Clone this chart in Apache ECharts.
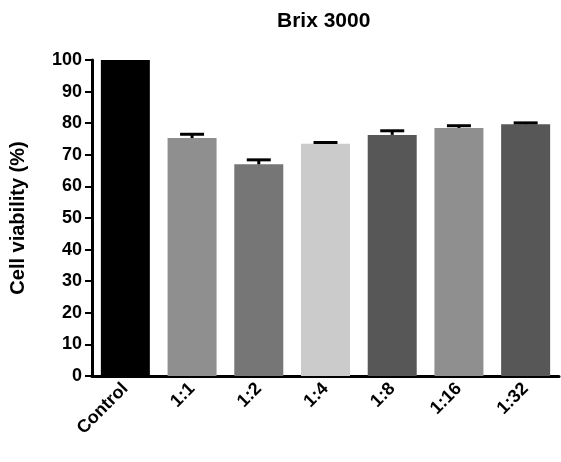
<!DOCTYPE html>
<html>
<head>
<meta charset="utf-8">
<script src="https://cdn.jsdelivr.net/npm/echarts@6/dist/echarts.min.js"></script>
<style>html,body{margin:0;padding:0;background:#fff}#c{width:561px;height:462px}</style>
</head>
<body>
<div id="c"></div>
<script>
var categories = ['Control', '1:1', '1:2', '1:4', '1:8', '1:16', '1:32'];
var values = [100, 75.3, 67.0, 73.5, 76.3, 78.5, 79.7];
var errors = [0, 1.2, 1.4, 0.4, 1.3, 0.7, 0.4];
var colors = ['#000000', '#8f8f8f', '#767676', '#cbcbcb', '#575757', '#8f8f8f', '#575757'];

var chart = echarts.init(document.getElementById('c'));
var font = 'Liberation Sans, Arial, sans-serif';
chart.setOption({
  title: { text: 'Brix 3000', left: 272, top: 6,
    textStyle: { fontFamily: font, fontSize: 21, fontWeight: 'bold', color: '#000' } },
  grid: { left: 90, right: 2, top: 60, bottom: 86 },
  xAxis: {
    type: 'category', data: categories,
    axisLine: { lineStyle: { color: '#000', width: 3 } },
    axisTick: { alignWithLabel: true, length: 7, lineStyle: { color: '#000', width: 2 } },
    axisLabel: { rotate: 45, color: '#000', fontFamily: font, fontSize: 18, fontWeight: 'bold', margin: 10 }
  },
  yAxis: {
    type: 'value', min: 0, max: 100, interval: 10,
    name: 'Cell viability (%)', nameLocation: 'middle', nameGap: 64,
    nameTextStyle: { fontFamily: font, fontSize: 20, fontWeight: 'bold', color: '#000' },
    splitLine: { show: false },
    axisLine: { show: true, lineStyle: { color: '#000', width: 3 } },
    axisTick: { show: true, length: 7, lineStyle: { color: '#000', width: 2 } },
    axisLabel: { color: '#000', fontFamily: font, fontSize: 18, fontWeight: 'bold', margin: 10 }
  },
  series: [
    {
      type: 'bar', barWidth: 49,
      data: values.map(function (v, i) { return { value: v, itemStyle: { color: colors[i] } }; }),
      z: 2
    },
    {
      type: 'custom', z: 3,
      data: values.map(function (v, i) { return [i, v, errors[i]]; }),
      renderItem: function (params, api) {
        if (api.value(2) === 0) return null;
        var base = api.coord([api.value(0), api.value(1)]);
        var top = api.coord([api.value(0), api.value(1) + api.value(2)]);
        var st = { stroke: '#000', lineWidth: 3 };
        return { type: 'group', children: [
          { type: 'line', shape: { x1: base[0], y1: base[1], x2: top[0], y2: top[1] }, style: st },
          { type: 'line', shape: { x1: top[0] - 12, y1: top[1], x2: top[0] + 12, y2: top[1] }, style: st }
        ] };
      }
    }
  ]
});
</script>
</body>
</html>
